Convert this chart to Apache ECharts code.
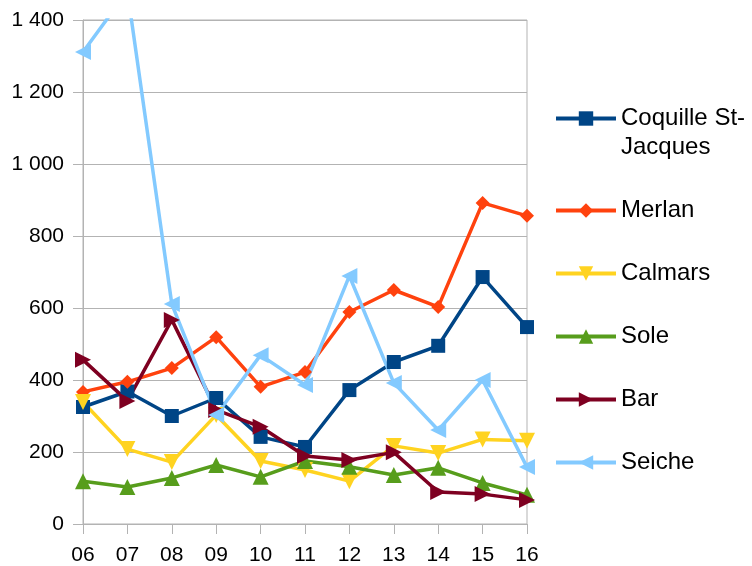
<!DOCTYPE html>
<html>
<head>
<meta charset="utf-8">
<script src="https://cdn.jsdelivr.net/npm/echarts@6/dist/echarts.min.js"></script>
<style>
  html, body { margin: 0; padding: 0; background: #fff; }
  #chart { width: 752px; height: 566px; }
</style>
</head>
<body>
<div id="chart"></div>
<script>
var years = ['06', '07', '08', '09', '10', '11', '12', '13', '14', '15', '16'];

var coquille = [325, 368, 300, 350, 242, 214, 372, 450, 495, 686, 547];
var merlan   = [367, 395, 433, 519, 381, 422, 589, 650, 603, 892, 856];
var calmars  = [339, 208, 172, 303, 175, 150, 119, 217, 197, 235, 231];
var sole     = [119, 103, 128, 164, 131, 175, 159, 136, 156, 114, 81];
var bar      = [456, 342, 567, 317, 270, 189, 178, 199, 89, 83, 67];
var seiche   = [1311, 1480, 611, 303, 469, 386, 689, 392, 261, 400, 158];

(function () {
  var myChart = echarts.init(document.getElementById('chart'));
  var font = 'Liberation Sans';

  function serie(name, data, color, symbol, size, rotate) {
    return {
      name: name,
      type: 'line',
      data: data,
      symbol: symbol,
      symbolSize: size,
      symbolRotate: rotate || 0,
      lineStyle: { color: color, width: 3.5 },
      itemStyle: { color: color },
      emphasis: { disabled: true }
    };
  }

  var option = {
    animation: false,
    textStyle: { fontFamily: font },
    grid: {
      left: 83, right: 225, top: 20, bottom: 42,
      show: true, borderColor: '#b3b3b3', borderWidth: 1
    },
    legend: {
      orient: 'vertical',
      left: 549,
      top: 70,
      itemWidth: 60,
      itemHeight: 18,
      itemGap: 34,
      lineStyle: { width: 4 },
      textStyle: { fontSize: 24, color: '#000', lineHeight: 29, fontFamily: font },
      formatter: function (name) {
        return name === 'Coquille St-Jacques' ? ' \nCoquille St-\nJacques' : name;
      }
    },
    xAxis: {
      type: 'category',
      data: years,
      boundaryGap: false,
      axisLine: { lineStyle: { color: '#b3b3b3' } },
      axisTick: { show: true, length: 10, lineStyle: { color: '#b3b3b3' } },
      axisLabel: { color: '#000', fontSize: 21, margin: 21, fontFamily: font },
      splitLine: { show: false }
    },
    yAxis: {
      type: 'value',
      min: 0,
      max: 1400,
      interval: 200,
      axisLine: { show: true, lineStyle: { color: '#b3b3b3' } },
      axisTick: { show: true, length: 10, lineStyle: { color: '#b3b3b3' } },
      axisLabel: {
        color: '#000', fontSize: 21, margin: 19, fontFamily: font,
        formatter: function (v) {
          return String(v).replace(/\B(?=(\d{3})+(?!\d))/g, ' ');
        }
      },
      splitLine: { lineStyle: { color: '#b3b3b3' } }
    },
    series: [
      serie('Coquille St-Jacques', coquille, '#004586', 'rect', 14),
      serie('Merlan', merlan, '#ff420e', 'diamond', 14),
      serie('Calmars', calmars, '#ffd320', 'triangle', 16, 180),
      serie('Sole', sole, '#579d1c', 'triangle', 16),
      serie('Bar', bar, '#7e0021', 'triangle', 16, -90),
      serie('Seiche', seiche, '#83caff', 'triangle', 16, 90)
    ]
  };

  option && myChart.setOption(option);
})();
</script>
</body>
</html>
